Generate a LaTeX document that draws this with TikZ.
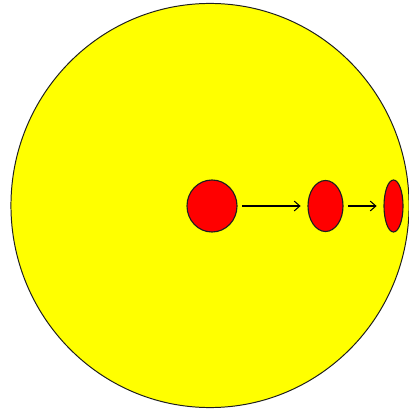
\documentclass[tikz,border=0pt]{standalone}
\usepackage{tikz}
\usetikzlibrary{arrows.meta, shapes.geometric}
\definecolor{sunyellow}{RGB}{255,255,0}
\definecolor{dropred}{RGB}{255,0,0}
\definecolor{rimgray}{RGB}{30,30,30}

\begin{document}
\begin{tikzpicture}[
  x=0.025cm, y=-0.025cm,
  blob/.style={ellipse, draw=rimgray, fill=dropred, line width=0.8pt, inner sep=0pt},
  push/.style={-{Straight Barb[length=4pt,width=7pt]}, line width=0.75pt,
               shorten <=0.12cm, shorten >=0.17cm}
]
\useasboundingbox (0,0) rectangle (408,412);

% --- big body ---
\node[ellipse, draw=rimgray, fill=sunyellow, line width=0.7pt, inner sep=0pt,
      minimum width=9.95cm, minimum height=10.1cm] (body) at (210,205.5) {};

% --- drops, getting flatter ---
\node[blob, minimum width=1.25cm, minimum height=1.3cm] (drop0) at (212,206) {};
\node[blob, minimum width=0.875cm, minimum height=1.275cm] (drop1) at (325.5,206) {};
\node[blob, minimum width=0.475cm, minimum height=1.3cm] (drop2) at (393.5,206) {};

% Arrows between drops
\draw[push] (drop0.east) -- (drop1.west);
\draw[push] (drop1.east) -- (drop2.west);

\end{tikzpicture}
\end{document}
